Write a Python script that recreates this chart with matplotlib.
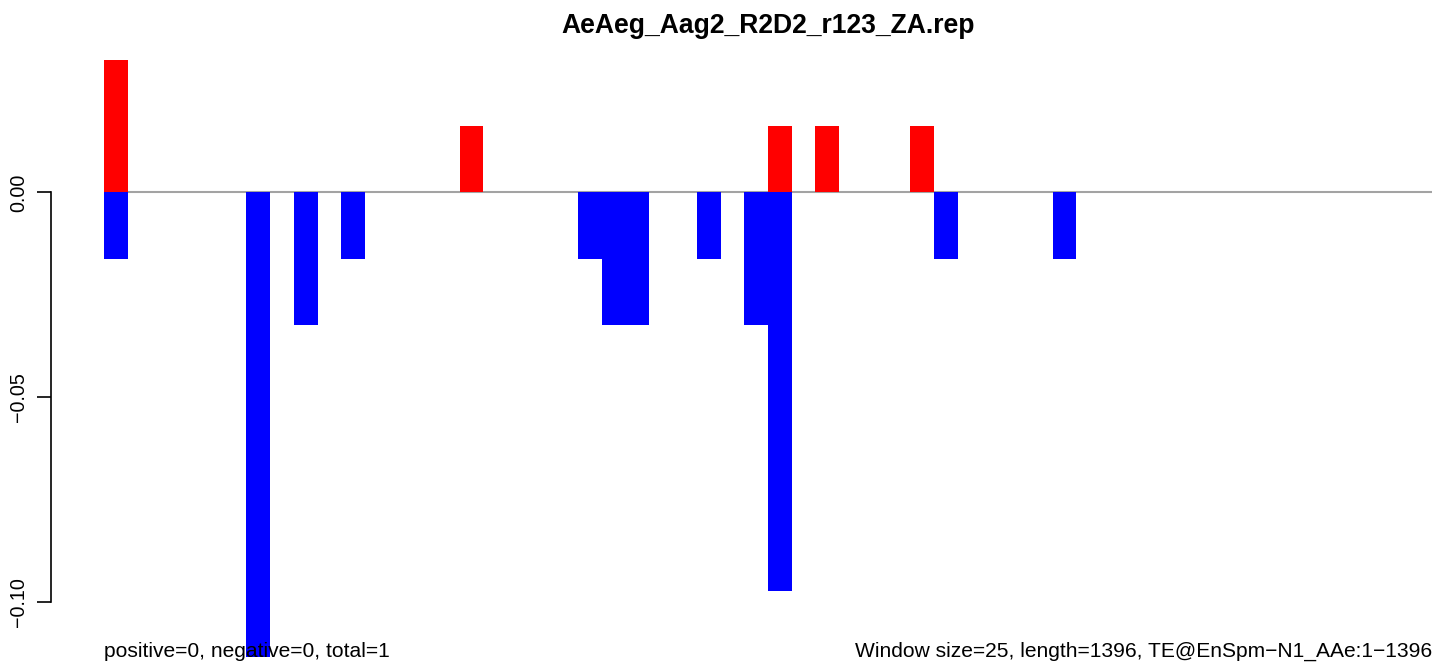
import numpy as np
import matplotlib.pyplot as plt

plt.rcParams['font.family'] = ['Liberation Sans', 'DejaVu Sans']

# normalised read counts per 25 nt window (56 windows)
n_win = 56
pos_win = [0, 15, 28, 30, 34]
pos_val = [0.0324, 0.0162, 0.0162, 0.0162, 0.0162]
neg_win = [0, 6, 8, 10, 20, 21, 22, 25, 27, 28, 35, 40]
neg_val = [-0.0162, -0.1134, -0.0324, -0.0162, -0.0162, -0.0324,
           -0.0324, -0.0162, -0.0324, -0.0972, -0.0162, -0.0162]

yticks = [-0.10, -0.05, 0.00]
ytick_labels = ["\u22120.10", "\u22120.05", "0.00"]

title = "AeAeg_Aag2_R2D2_r123_ZA.rep"
left_note = "positive=0, negative=0, total=1"
right_note = "Window size=25, length=1396, TE@EnSpm\u2212N1_AAe:1\u22121396"

W, H = 1439, 664
fig = plt.figure(figsize=(W / 100, H / 100), dpi=100)
# plot region like R: x from 51 to 1485 px
ax = fig.add_axes([51 / W, 0, 1434 / W, 1])

pos = np.zeros(n_win)
neg = np.zeros(n_win)
pos[pos_win] = pos_val
neg[neg_win] = neg_val
x = np.arange(n_win)

ax.hlines(0, 0, n_win, color='#a3a3a3', lw=1.5, zorder=1)
ax.bar(x, pos, width=1, align='edge', color='#ff0000', lw=0, zorder=2)
ax.bar(x, neg, width=1, align='edge', color='#0000ff', lw=0, zorder=2)

# 4% padding like R barplot
ax.set_xlim(-0.04 * n_win, n_win * 1.04)
ax.set_ylim(-(H - 192.5) / 4095, 192.5 / 4095)

for s in ['top', 'right', 'bottom']:
    ax.spines[s].set_visible(False)
ax.spines['left'].set_bounds(-0.10, 0.0)
ax.spines['left'].set_linewidth(1.2)
ax.set_xticks([])
ax.set_yticks(yticks)
ax.set_yticklabels(ytick_labels, rotation=90, va='center', fontsize=14.2)
ax.tick_params(axis='y', length=10, width=1.2, pad=6.5)

ax.text(0, -(657 - 192.5) / 4095, left_note, ha='left', va='baseline',
        fontsize=15.1, zorder=5)
ax.text(n_win, -(657 - 192.5) / 4095, right_note, ha='right', va='baseline',
        fontsize=15.1, zorder=5)

fig.text((51 + 1434 / 2) / W, 1 - 33 / H, title, ha='center', va='baseline',
         fontsize=19.1, fontweight='bold')

fig.savefig('out.png', dpi=100)
